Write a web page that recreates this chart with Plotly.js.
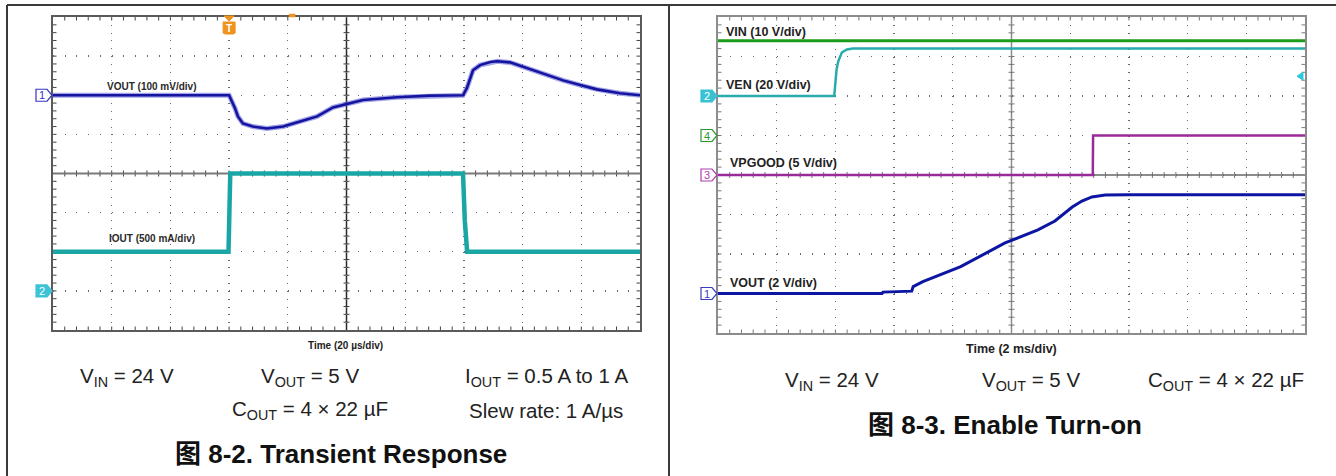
<!DOCTYPE html>
<html><head><meta charset="utf-8">
<script src="https://cdn.plot.ly/plotly-3.0.1.min.js"></script>
<style>html,body{margin:0;padding:0;background:#fff;} #chart{width:1336px;height:476px;}</style>
</head><body><div id="chart"></div>
<script>
// ---------- Figure 8-2 : Transient Response (time in us) ----------
const t82_vout_us = [0, 60, 62, 63, 64.7, 68.1, 72.9, 78.4, 84.2, 90, 95.4, 105.6, 117.2, 128.4, 139.7, 141, 143.1, 145.5, 149, 151.3, 155.7, 162.5, 168.3, 173.8, 179.6, 185.3, 193.2, 200];
const vout82_mV   = [0, 0, -33, -54, -72, -80, -85, -80, -67, -54, -31, -12, -5, -1, 0, 18, 64, 77, 85, 87, 84, 66, 51, 38, 26, 15, 5, 0];
const t82_iout_us = [0, 59.8, 60.4, 139.7, 140.3, 141.1, 200];
const iout82_A    = [0.5, 0.5, 1.5, 1.5, 0.9, 0.5, 0.5];
const trig82_us   = 60;

// ---------- Figure 8-3 : Enable Turn-on (time in ms) ----------
const t83_vin_ms  = [0, 20];
const vin83_V     = [24, 24];
const t83_ven_ms  = [0, 3.96, 3.99, 4.04, 4.10, 4.22, 4.39, 4.6, 20];
const ven83_V     = [0, 0, 5.1, 13.5, 17.7, 22, 23.6, 24, 24];
const t83_pg_ms   = [0, 12.77, 12.78, 20];
const pgood83_V   = [0, 0, 5, 5];
const t83_vout_ms = [0, 5.59, 5.62, 6.6, 6.65, 6.98, 8.27, 9.78, 10.9, 11.48, 12.07, 12.4, 12.74, 13.19, 14, 20];
const vout83_V    = [0, 0, 0.07, 0.12, 0.35, 0.6, 1.36, 2.56, 3.22, 3.67, 4.38, 4.68, 4.89, 4.99, 5.0, 5.0];
const trigVen83_V = 10;

// ---------- scope scales (per division) ----------
const RX82 = [0, 200], RVOUT82 = [-600, 200], RIOUT82 = [-0.5, 3.5];
const RX83 = [0, 20], RVOUT83 = [-2, 14], RVIN83 = [-50, 30], RVEN83 = [-120, 40], RPG83 = [-20, 20];

// ---------- layout helpers ----------
const W = 1336, H = 476;
const FONT = 'Liberation Sans, Arial, Noto Sans CJK SC, sans-serif';
const px = x => x / W, py = y => 1 - y / H;
const L = {x0: 53, x1: 640, y0: 17, y1: 330};
const R = {x0: 718, x1: 1305, y0: 17, y1: 333};

function baseAxis(dom, range, dash, lc, extra) {
  return Object.assign({domain: dom, range: range, dtick: (range[1] - range[0]) / (extra.nd), tick0: range[0],
    showgrid: true, gridcolor: '#6a6a6a', gridwidth: 1.3, griddash: dash, zeroline: false,
    showline: true, mirror: true, linecolor: lc, linewidth: 2, ticks: '', showticklabels: false, fixedrange: true}, extra.o);
}
const hidden = extra => Object.assign({visible: false, showgrid: false, zeroline: false, fixedrange: true}, extra);

const layout = {
  width: W, height: H, margin: {l: 0, r: 0, t: 0, b: 0}, showlegend: false,
  paper_bgcolor: '#fff', plot_bgcolor: '#fff', font: {family: FONT, color: '#222'},
  xaxis:  baseAxis([px(L.x0), px(L.x1)], RX82, '1px,6.825px', '#5a5a5a', {nd: 10, o: {anchor: 'y'}}),
  yaxis:  baseAxis([py(L.y1), py(L.y0)], RVOUT82, '1px,10.74px', '#5a5a5a', {nd: 8, o: {anchor: 'x'}}),
  yaxis3: hidden({overlaying: 'y', range: RIOUT82, anchor: 'x'}),
  xaxis2: baseAxis([px(R.x0), px(R.x1)], RX83, '1px,6.9px', '#8c8c8c', {nd: 10, o: {anchor: 'y2'}}),
  yaxis2: baseAxis([py(R.y1), py(R.y0)], RVOUT83, '1px,10.74px', '#8c8c8c', {nd: 8, o: {anchor: 'x2'}}),
  yaxis4: hidden({overlaying: 'y2', range: RVIN83, anchor: 'x2'}),
  yaxis5: hidden({overlaying: 'y2', range: RVEN83, anchor: 'x2'}),
  yaxis6: hidden({overlaying: 'y2', range: RPG83, anchor: 'x2'}),
  shapes: [], annotations: []
};

// center crosshair + minor tick marks (in data coordinates of base axes)
function scopeDeco(xr, yr, box, xref, yref, vcol, hcol, tcol) {
  const cx = (xr[0] + xr[1]) / 2, cy = (yr[0] + yr[1]) / 2;
  const sx = (xr[1] - xr[0]) / (box.x1 - box.x0), sy = (yr[1] - yr[0]) / (box.y1 - box.y0);
  const mx = (xr[1] - xr[0]) / 50, my = (yr[1] - yr[0]) / 40;
  let p = '';
  for (let k = 1; k < 50; k++) {
    const x = xr[0] + k * mx;
    p += `M${x},${cy - 3 * sy}L${x},${cy + 3 * sy}`;
    p += `M${x},${yr[1]}L${x},${yr[1] - 3.5 * sy}M${x},${yr[0]}L${x},${yr[0] + 3.5 * sy}`;
  }
  for (let k = 1; k < 40; k++) {
    const y = yr[0] + k * my;
    p += `M${cx - 3 * sx},${y}L${cx + 3 * sx},${y}`;
    p += `M${xr[0]},${y}L${xr[0] + 3.5 * sx},${y}M${xr[1]},${y}L${xr[1] - 3.5 * sx},${y}`;
  }
  layout.shapes.push({type: 'path', xref: xref, yref: yref, path: p, line: {color: tcol, width: 1}, layer: 'below'});
  layout.shapes.push({type: 'line', xref: xref, yref: yref, x0: xr[0], x1: xr[1], y0: cy, y1: cy, line: {color: hcol, width: 2}, layer: 'below'});
  layout.shapes.push({type: 'line', xref: xref, yref: yref, x0: cx, x1: cx, y0: yr[0], y1: yr[1], line: {color: vcol, width: 1.5}, layer: 'below'});
}
scopeDeco(RX82, RVOUT82, L, 'x', 'y', '#2a2a2a', '#7a7a7a', '#444');
scopeDeco(RX83, RVOUT83, R, 'x2', 'y2', '#8c8c8c', '#8c8c8c', '#777');

// outer panel frame
const frame = {color: '#3a3a3a', width: 2};
layout.shapes.push({type: 'line', xref: 'paper', yref: 'paper', x0: px(7), x1: px(7), y0: py(5), y1: 0, line: frame});
layout.shapes.push({type: 'line', xref: 'paper', yref: 'paper', x0: px(7), x1: 1, y0: py(5), y1: py(5), line: frame});
layout.shapes.push({type: 'line', xref: 'paper', yref: 'paper', x0: px(669), x1: px(669), y0: py(5), y1: 0, line: frame});

// pixel helpers for decorations outside the plot areas
const valY = (box, r, v) => box.y1 - (v - r[0]) / (r[1] - r[0]) * (box.y1 - box.y0);
const valX = (box, r, v) => box.x0 + (v - r[0]) / (r[1] - r[0]) * (box.x1 - box.x0);
const P = (x, y) => `${px(x)},${py(y)}`;
function poly(pts, fill, line, lw) {
  layout.shapes.push({type: 'path', xref: 'paper', yref: 'paper', layer: 'above',
    path: 'M' + pts.map(p => P(p[0], p[1])).join('L') + 'Z', fillcolor: fill, line: {color: line, width: lw}});
}
function chMarker(box, r, num, filled, col) {
  const x = box.x0, y = valY(box, r, 0);
  poly([[x - 17, y - 6], [x - 6, y - 6], [x - 1, y], [x - 6, y + 6], [x - 17, y + 6]], filled ? col : '#fff', col, 1.2);
  layout.annotations.push({xref: 'paper', yref: 'paper', x: px(x - 11.5), y: py(y), text: num, showarrow: false,
    xanchor: 'center', yanchor: 'middle', font: {size: 11, color: filled ? '#fff' : col, family: FONT}});
}
chMarker(L, RVOUT82, '1', false, '#3434c4');
chMarker(L, RIOUT82, '2', true, '#3cc3d6');
chMarker(R, RVEN83, '2', true, '#38c2d4');
chMarker(R, RVIN83, '4', false, '#2a9a2a');
chMarker(R, RPG83, '3', false, '#b03cb0');
chMarker(R, RVOUT83, '1', false, '#3a3ac4');

// trigger markers
const ORANGE = '#f0921e';
const tx = valX(L, RX82, trig82_us);
poly([[tx - 5, L.y0 - 1], [tx + 5, L.y0 - 1], [tx, L.y0 + 4]], ORANGE, ORANGE, 1);
poly([[tx - 6, L.y0 + 5], [tx + 6, L.y0 + 5], [tx + 6, L.y0 + 16], [tx + 4, L.y0 + 17], [tx - 4, L.y0 + 17], [tx - 6, L.y0 + 16]], ORANGE, ORANGE, 1);
layout.annotations.push({xref: 'paper', yref: 'paper', x: px(tx), y: py(L.y0 + 11), text: '<b>T</b>', showarrow: false,
  font: {size: 10, color: '#fff', family: FONT}, xanchor: 'center', yanchor: 'middle'});
const tx2 = valX(L, RX82, 81.5);
poly([[tx2 - 3, L.y0 - 3], [tx2 + 3, L.y0 - 3], [tx2 + 3, L.y0], [tx2 - 3, L.y0]], ORANGE, ORANGE, 0.5);
const ty = valY(R, RVEN83, trigVen83_V);
poly([[R.x1 - 8, ty], [R.x1 - 2, ty - 4], [R.x1 - 2, ty + 4]], '#2cc8e0', '#2cc8e0', 1);

// text helpers
function ann(text, x, y, size, opts) {
  layout.annotations.push(Object.assign({xref: 'paper', yref: 'paper', x: px(x), y: py(y), text: text, showarrow: false,
    xanchor: 'left', yanchor: 'middle', font: {size: size, color: '#222', family: FONT}}, opts || {}));
}
ann('<b>VOUT (100 mV/div)</b>', 105, 86, 10, {font: {size: 10, color: '#2a2a2a', family: FONT}});
ann('<b>IOUT (500 mA/div)</b>', 107, 238, 10, {font: {size: 10, color: '#2a2a2a', family: FONT}});
ann('<b>Time (20 µs/div)</b>', 345, 345, 10, {xanchor: 'center'});
ann('<b>VIN (10 V/div)</b>', 724, 32, 12.5);
ann('<b>VEN (20 V/div)</b>', 724, 85, 12.5);
ann('<b>VPGOOD (5 V/div)</b>', 728, 163, 12.5);
ann('<b>VOUT (2 V/div)</b>', 728, 283, 12.5);
ann('<b>Time (2 ms/div)</b>', 1011, 349, 12.5, {xanchor: 'center'});

const CAP = 20.5, TTL = 26;
ann('V<sub>IN</sub> = 24 V', 127, 377, CAP, {xanchor: 'center'});
ann('V<sub>OUT</sub> = 5 V', 310, 377, CAP, {xanchor: 'center'});
ann('I<sub>OUT</sub> = 0.5 A to 1 A', 546, 377, CAP, {xanchor: 'center'});
ann('C<sub>OUT</sub> = 4 × 22 µF', 310, 410, CAP, {xanchor: 'center'});
ann('Slew rate: 1 A/µs', 546, 410, CAP, {xanchor: 'center'});
ann('<b>图 8-2. Transient Response</b>', 341, 454, TTL, {xanchor: 'center', font: {size: TTL, color: '#111', family: FONT}});
ann('V<sub>IN</sub> = 24 V', 832, 381, CAP, {xanchor: 'center'});
ann('V<sub>OUT</sub> = 5 V', 1031, 381, CAP, {xanchor: 'center'});
ann('C<sub>OUT</sub> = 4 × 22 µF', 1226, 381, CAP, {xanchor: 'center'});
ann('<b>图 8-3. Enable Turn-on</b>', 1005, 425, TTL, {xanchor: 'center', font: {size: TTL, color: '#111', family: FONT}});

const ln = (x, y, xa, ya, color, width) => ({x: x, y: y, xaxis: xa, yaxis: ya, type: 'scatter', mode: 'lines',
  line: {color: color, width: width}, hoverinfo: 'skip'});
const data = [
  ln(t82_vout_us, vout82_mV, 'x', 'y', 'rgba(90,90,210,0.55)', 5),
  ln(t82_vout_us, vout82_mV, 'x', 'y', '#1414a0', 2.6),
  ln(t82_iout_us, iout82_A, 'x', 'y3', '#1ba6a6', 4.5),
  ln(t83_vout_ms, vout83_V, 'x2', 'y2', '#0c16a2', 3),
  ln(t83_pg_ms, pgood83_V, 'x2', 'y6', '#9a2a9a', 2.5),
  ln(t83_ven_ms, ven83_V, 'x2', 'y5', '#27abab', 2.5),
  ln(t83_vin_ms, vin83_V, 'x2', 'y4', '#1c9c1c', 3)
];
Plotly.newPlot('chart', data, layout, {staticPlot: true, displayModeBar: false});
</script></body></html>
